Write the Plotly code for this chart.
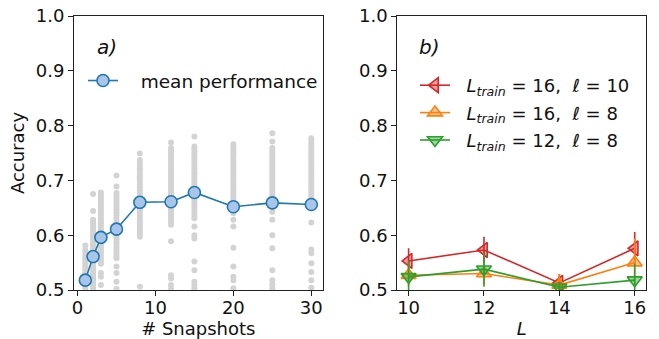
import plotly.graph_objects as go

# ---------------- data ----------------
snap_x = [1, 2, 3, 5, 8, 12, 15, 20, 25, 30]
mean_acc = [0.518, 0.561, 0.596, 0.611, 0.660, 0.661, 0.678, 0.652, 0.659, 0.656]

runs_1 = [0.581, 0.573, 0.568, 0.563, 0.558, 0.553, 0.548, 0.543, 0.538, 0.533,
          0.528, 0.523, 0.518, 0.513, 0.508, 0.503]
runs_2 = [0.675, 0.644, 0.628, 0.623, 0.618, 0.613, 0.608, 0.603, 0.598, 0.593,
          0.588, 0.583, 0.578, 0.573, 0.568, 0.563, 0.558, 0.553, 0.548, 0.543,
          0.538, 0.533, 0.528, 0.523, 0.518, 0.513, 0.508, 0.503]
runs_3 = [0.678, 0.672, 0.667, 0.662, 0.657, 0.652, 0.647, 0.642, 0.637, 0.632,
          0.627, 0.622, 0.617, 0.612, 0.607, 0.602, 0.597, 0.592, 0.587, 0.582,
          0.577, 0.572, 0.567, 0.562, 0.557, 0.552, 0.548, 0.531, 0.524, 0.509]
runs_5 = [0.709, 0.689, 0.677, 0.672, 0.667, 0.662, 0.657, 0.652, 0.647, 0.642,
          0.637, 0.632, 0.627, 0.622, 0.617, 0.612, 0.607, 0.602, 0.597, 0.592,
          0.587, 0.582, 0.577, 0.572, 0.567, 0.562, 0.558, 0.543, 0.531, 0.515,
          0.502]
runs_8 = [0.749, 0.737, 0.732, 0.727, 0.722, 0.717, 0.712, 0.707, 0.702, 0.697,
          0.692, 0.687, 0.682, 0.677, 0.672, 0.667, 0.662, 0.657, 0.652, 0.647,
          0.642, 0.637, 0.632, 0.627, 0.622, 0.617, 0.612, 0.607, 0.602, 0.597,
          0.506]
runs_12 = [0.769, 0.759, 0.754, 0.749, 0.744, 0.739, 0.734, 0.729, 0.724, 0.719,
           0.714, 0.709, 0.704, 0.699, 0.694, 0.689, 0.684, 0.679, 0.674, 0.669,
           0.664, 0.659, 0.654, 0.649, 0.644, 0.639, 0.634, 0.629, 0.624, 0.619,
           0.589, 0.527, 0.521, 0.509, 0.502]
runs_15 = [0.780, 0.762, 0.757, 0.752, 0.747, 0.742, 0.737, 0.732, 0.727, 0.722,
           0.717, 0.712, 0.707, 0.702, 0.697, 0.692, 0.687, 0.682, 0.677, 0.672,
           0.667, 0.662, 0.657, 0.652, 0.647, 0.642, 0.636, 0.631, 0.616, 0.600,
           0.594, 0.552, 0.536, 0.515, 0.509, 0.503]
runs_20 = [0.766, 0.761, 0.756, 0.751, 0.746, 0.741, 0.736, 0.731, 0.726, 0.721,
           0.716, 0.711, 0.706, 0.701, 0.696, 0.691, 0.686, 0.681, 0.676, 0.671,
           0.666, 0.661, 0.656, 0.650, 0.645, 0.640, 0.628, 0.616, 0.577, 0.543,
           0.524, 0.518, 0.503]
runs_25 = [0.786, 0.771, 0.759, 0.754, 0.749, 0.744, 0.739, 0.734, 0.729, 0.724,
           0.719, 0.714, 0.709, 0.704, 0.699, 0.694, 0.689, 0.684, 0.679, 0.674,
           0.669, 0.664, 0.659, 0.654, 0.643, 0.628, 0.600, 0.576, 0.536, 0.518,
           0.510, 0.503]
runs_30 = [0.777, 0.772, 0.767, 0.762, 0.757, 0.752, 0.747, 0.742, 0.737, 0.732,
           0.727, 0.722, 0.717, 0.712, 0.707, 0.702, 0.697, 0.692, 0.687, 0.682,
           0.677, 0.672, 0.667, 0.662, 0.623, 0.574, 0.567, 0.549, 0.533, 0.518,
           0.504]

L_vals = [10, 12, 14, 16]
acc_16_10 = [0.553, 0.573, 0.513, 0.576]
err_16_10 = [0.023, 0.024, 0.016, 0.030]
acc_16_8 = [0.527, 0.530, 0.509, 0.550]
err_16_8 = [0.020, 0.020, 0.020, 0.044]
acc_12_8 = [0.524, 0.538, 0.505, 0.518]
err_12_8 = [0.030, 0.032, 0.010, 0.030]

y_ticks = [0.5, 0.6, 0.7, 0.8, 0.9, 1.0]
x_ticks_a = [0, 10, 20, 30]
x_ticks_b = [10, 12, 14, 16]

# ---------------- figure ----------------
W, H = 659, 339
FONT = "DejaVu Sans"
BLUE, ORANGE, GREEN, RED = "#1f77b4", "#ff7f0e", "#2ca02c", "#d62728"

fig = go.Figure()

runs_all = [runs_1, runs_2, runs_3, runs_5, runs_8, runs_12, runs_15, runs_20, runs_25, runs_30]
gx, gy = [], []
for xv, vals in zip(snap_x, runs_all):
    gx += [xv] * len(vals)
    gy += vals
fig.add_trace(go.Scatter(x=gx, y=gy, mode="markers", showlegend=False,
                         marker=dict(size=6, color="#d3d3d3", line=dict(width=0)),
                         xaxis="x", yaxis="y"))
fig.add_trace(go.Scatter(x=snap_x, y=mean_acc, mode="lines+markers",
                         name="\u00a0\u00a0\u00a0mean performance",
                         line=dict(color=BLUE, width=1.6),
                         marker=dict(size=12, color="#a9c6e8", line=dict(color=BLUE, width=1.6)),
                         xaxis="x", yaxis="y", legend="legend"))

def lab(lt, ell):
    return ("\u00a0\u00a0<i>L</i><sub><i>train</i></sub> = %d,\u00a0\u00a0<i>ℓ</i> = %d" % (lt, ell))

series = [
    (acc_16_10, err_16_10, RED, "rgba(214,39,40,0.45)", "triangle-left", lab(16, 10)),
    (acc_16_8, err_16_8, ORANGE, "rgba(255,127,14,0.45)", "triangle-up", lab(16, 8)),
    (acc_12_8, err_12_8, GREEN, "rgba(44,160,44,0.45)", "triangle-down", lab(12, 8)),
]
for i, (acc, err, col, fill, sym, name) in enumerate(series):
    fig.add_trace(go.Scatter(x=L_vals, y=acc, mode="lines+markers", name=name,
                             line=dict(color=col, width=1.6),
                             marker=dict(symbol=sym, size=13, color=fill,
                                         line=dict(color=col, width=1.6)),
                             error_y=dict(type="data", array=err, visible=True,
                                          color=col, thickness=1.6, width=0),
                             legendgroup="g%d" % i,
                             xaxis="x2", yaxis="y2", legend="legend2"))

ax_common = dict(showline=True, linecolor="#222", linewidth=1, mirror=True,
                 ticks="outside", ticklen=5, tickwidth=1, tickcolor="#222",
                 showgrid=False, zeroline=False, automargin=False,
                 tickfont=dict(size=18, color="#111", family=FONT))

ML, MR, MT, MB = 74, 13, 16, 49
PW = W - ML - MR
PH = H - MT - MB
def fx(px):
    return (px - ML) / PW
def fy(py):
    return 1 - (py - MT) / PH

fig.update_layout(
    width=W, height=H,
    margin=dict(l=ML, r=MR, t=MT, b=MB, pad=0, autoexpand=False),
    paper_bgcolor="white", plot_bgcolor="white",
    font=dict(family=FONT, size=18, color="#111"),
    xaxis=dict(domain=[0, fx(322.6)], range=[-0.45, 31.45], tickvals=x_ticks_a,
               ticklabelstandoff=-4,
               title=dict(text="# Snapshots", font=dict(size=18), standoff=6),
               anchor="y", **ax_common),
    yaxis=dict(domain=[0, 1], range=[0.5, 1.0], tickvals=y_ticks, tickformat=".1f",
               title=dict(text="Accuracy", font=dict(size=18), standoff=6),
               anchor="x", **ax_common),
    xaxis2=dict(domain=[fx(397.3), 1], range=[9.7, 16.3], tickvals=x_ticks_b,
                ticklabelstandoff=-4,
                title=dict(text="<i>L</i>", font=dict(size=18), standoff=6),
                anchor="y2", **ax_common),
    yaxis2=dict(domain=[0, 1], range=[0.5, 1.0], tickvals=y_ticks, tickformat=".1f",
                anchor="x2", **ax_common),
    legend=dict(x=fx(83), y=fy(62), xanchor="left", yanchor="top",
                bgcolor="rgba(0,0,0,0)", borderwidth=0,
                font=dict(size=18.5, family=FONT, color="#111")),
    legend2=dict(x=fx(415), y=fy(67), xanchor="left", yanchor="top",
                 bgcolor="rgba(0,0,0,0)", borderwidth=0, tracegroupgap=1,
                 font=dict(size=18, family=FONT, color="#111")),
    annotations=[
        dict(text="<i>a)</i>", x=fx(95), y=fy(47), xref="paper", yref="paper",
             xanchor="left", yanchor="middle", showarrow=False,
             font=dict(size=20, family=FONT, color="#111")),
        dict(text="<i>b)</i>", x=fx(417), y=fy(47), xref="paper", yref="paper",
             xanchor="left", yanchor="middle", showarrow=False,
             font=dict(size=20, family=FONT, color="#111")),
    ],
)

fig.write_html("out.html", config={"displayModeBar": False},
               post_script="document.body.style.margin='0px';")
